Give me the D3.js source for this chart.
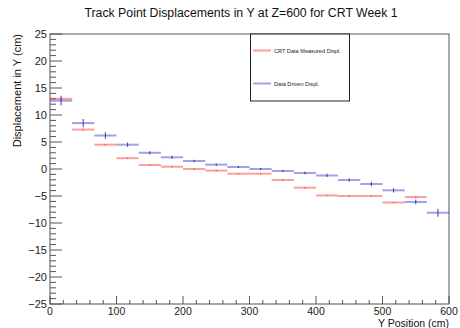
<!DOCTYPE html>
<html><head><meta charset="utf-8">
<script src="https://cdn.jsdelivr.net/npm/d3@7"></script>
<style>body{margin:0;background:#fff;} text{font-family:"Liberation Sans",Arial,sans-serif;}</style>
</head><body><svg id="c" width="460" height="328"></svg>
<script>
const xMin = 0, xMax = 600, nBins = 18;
const crtMeasured = [13.0, 7.3, 4.5, 2.0, 0.75, 0.43, 0.0, -0.3, -0.87, -0.87, -2.04, -3.46, -4.9, -5.0, -5.0, -6.2, -5.2, null];
const crtErr      = [0.15, 0.15, 0.15, 0.15, 0.15, 0.15, 0.15, 0.15, 0.15, 0.15, 0.15, 0.15, 0.15, 0.15, 0.15, 0.15, 0.15, null];
const dataDriven  = [12.65, 8.5, 6.2, 4.5, 3.0, 2.16, 1.48, 0.8, 0.37, 0.0, -0.37, -0.74, -1.2, -2.04, -2.78, -3.95, -6.1, -8.1];
const ddErr       = [0.9, 0.75, 0.6, 0.4, 0.3, 0.3, 0.25, 0.2, 0.2, 0.2, 0.2, 0.25, 0.3, 0.3, 0.35, 0.4, 0.45, 0.75];
const xTicks = [0, 100, 200, 300, 400, 500, 600];
const yTicks = [-25, -20, -15, -10, -5, 0, 5, 10, 15, 20, 25];
const titleText = "Track Point Displacements in Y at Z=600 for CRT Week 1";
const xLabel = "Y Position (cm)", yLabel = "Displacement in Y (cm)";
const legendLabels = ["CRT Data Measured Displ.", "Data Driven Displ."];

const svg = d3.select("#c");
const L = 50, R = 449, T = 34, B = 304;
const x = d3.scaleLinear().domain([xMin, xMax]).range([L, R]);
const y = d3.scaleLinear().domain([-25, 25]).range([B, T]);
const bw = (xMax - xMin) / nBins;
const edges = d3.range(nBins).map(i => xMin + i * bw);

const redC = "rgba(255,40,40,0.45)", blueC = "rgba(30,30,190,0.42)";
const redE = "rgba(220,30,30,0.6)", blueE = "rgba(20,20,150,0.75)";

// frame
svg.append("rect").attr("x", L).attr("y", T).attr("width", R - L).attr("height", B - T)
  .attr("fill", "none").attr("stroke", "#555").attr("stroke-width", 1);

// axes ticks
const gy = svg.append("g");
d3.range(-25, 25.01, 1).forEach(v => {
  const major = (v % 5 === 0);
  gy.append("line").attr("x1", L).attr("x2", L + (major ? 12 : 6))
    .attr("y1", y(v)).attr("y2", y(v)).attr("stroke", "#555").attr("stroke-width", 1);
});
yTicks.forEach(v => {
  gy.append("text").attr("x", L - 3).attr("y", y(v) + 4).attr("text-anchor", "end")
    .attr("font-size", 11).attr("fill", "#222").text(v < 0 ? "\u2212" + Math.abs(v) : v);
});
const gx = svg.append("g");
d3.range(0, 600.01, 20).forEach(v => {
  const major = (v % 100 === 0);
  gx.append("line").attr("x1", x(v)).attr("x2", x(v)).attr("y1", B).attr("y2", B - (major ? 8 : 4))
    .attr("stroke", "#555").attr("stroke-width", 1);
});
xTicks.forEach(v => {
  gx.append("text").attr("x", x(v)).attr("y", 314.5).attr("text-anchor", "middle")
    .attr("font-size", 10.5).attr("fill", "#222").text(v);
});

// histograms
function drawHist(vals, errs, color, ecolor) {
  const g = svg.append("g");
  vals.forEach((v, i) => {
    if (v === null) return;
    g.append("line").attr("x1", x(edges[i])).attr("x2", x(edges[i] + bw))
      .attr("y1", y(v)).attr("y2", y(v)).attr("stroke", color).attr("stroke-width", 2);
    const e = errs[i];
    if (e) {
      g.append("line").attr("x1", x(edges[i] + bw / 2)).attr("x2", x(edges[i] + bw / 2))
        .attr("y1", y(v - e)).attr("y2", y(v + e)).attr("stroke", ecolor).attr("stroke-width", 1.1);
    }
  });
}
drawHist(crtMeasured, crtErr, redC, redE);
drawHist(dataDriven, ddErr, blueC, blueE);

// legend
const lg = svg.append("g");
lg.append("rect").attr("x", 250.5).attr("y", T).attr("width", 99).attr("height", 67)
  .attr("fill", "#fff").attr("stroke", "#222").attr("stroke-width", 1);
[redC, blueC].forEach((c, i) => {
  const ly = 50.5 + i * 33;
  lg.append("line").attr("x1", 253).attr("x2", 271).attr("y1", ly).attr("y2", ly)
    .attr("stroke", c).attr("stroke-width", 2);
  lg.append("text").attr("x", 274).attr("y", ly + 2).attr("font-size", 5.6).attr("fill", "#222")
    .text(legendLabels[i]);
});

// titles
svg.append("text").attr("x", 241).attr("y", 17).attr("text-anchor", "middle")
  .attr("font-size", 12.3).attr("fill", "#111").text(titleText);
svg.append("text").attr("x", R).attr("y", 326.5).attr("text-anchor", "end")
  .attr("font-size", 10.5).attr("fill", "#111").text(xLabel);
svg.append("text").attr("transform", `translate(21,${T}) rotate(-90)`).attr("text-anchor", "end")
  .attr("font-size", 11).attr("fill", "#111").text(yLabel);
</script></body></html>
